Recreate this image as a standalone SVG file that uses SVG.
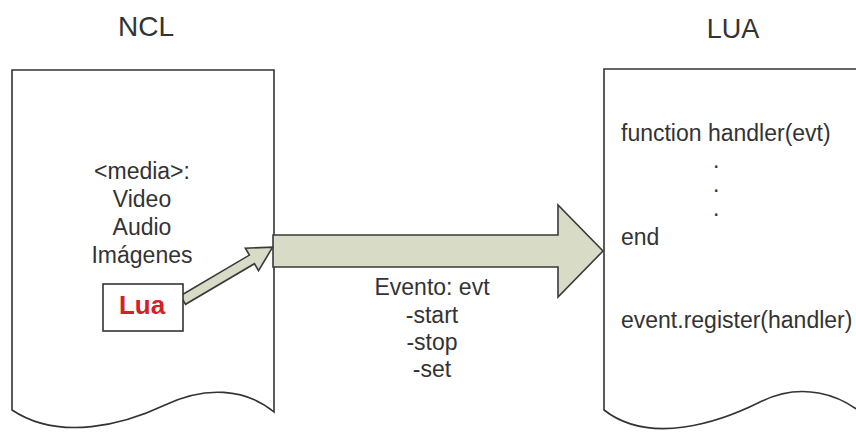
<svg xmlns="http://www.w3.org/2000/svg" width="856" height="432" viewBox="0 0 856 432">
  <style>
    .doc { fill: #ffffff; stroke: #333333; stroke-width: 1.6; }
    .arrow { fill: #d8dbc5; stroke: #3a3a3a; stroke-width: 1.6; stroke-linejoin: miter; }
    text { font-family: "Liberation Sans", Arial, sans-serif; fill: #333333; }
    .title { font-size: 28px; text-anchor: middle; }
    .body { font-size: 23px; }
    .mid { text-anchor: middle; }
  </style>
  <rect width="856" height="432" fill="#ffffff"/>

  <!-- Left document: NCL -->
  <g id="ncl">
    <text class="title" x="146" y="36">NCL</text>
    <path class="doc" d="M12,70 H274 V412 C 245,388 205,386 165,405 C 125,424 60,442 12,410 Z"/>
    <text class="body mid" x="142" y="179">&lt;media&gt;:</text>
    <text class="body mid" x="142" y="207">Video</text>
    <text class="body mid" x="142" y="235">Audio</text>
    <text class="body mid" x="142" y="263">Imágenes</text>
  </g>

  <!-- Right document: LUA -->
  <g id="lua-doc">
    <text class="title" x="733" y="38" style="font-size:27px">LUA</text>
    <path class="doc" d="M604,69 H870 V420 C 840,392 800,382 760,402 C 720,422 650,446 604,410 Z"/>
    <text class="body" x="621" y="141">function handler(evt)</text>
    <text class="body" x="713" y="168">.</text>
    <text class="body" x="713" y="192">.</text>
    <text class="body" x="713" y="216">.</text>
    <text class="body" x="621" y="245">end</text>
    <text class="body" x="621" y="328">event.register(handler)</text>
  </g>

  <!-- Connectors -->
  <g id="connectors">
    <!-- big event arrow -->
    <path class="arrow" d="M273,235 H558 V205 L603,251 L558,297 V267 H273 Z"/>
    <!-- small arrow from Lua box -->
    <path class="arrow" transform="translate(183,300) rotate(-30.5)" d="M0,-5 H80 V-13 L104,0 L80,13 V5 H0 Z"/>
  </g>

  <!-- Lua script box -->
  <g id="lua-box">
    <rect x="103" y="284" width="80" height="47" fill="#ffffff" stroke="#333333" stroke-width="1.6"/>
    <text x="142" y="314" text-anchor="middle" style="font-size:26px;font-weight:bold;fill:#d42028">Lua</text>
  </g>

  <!-- Event label -->
  <g id="evento">
    <text class="body mid" x="432" y="295">Evento: evt</text>
    <text class="body mid" x="432" y="323">-start</text>
    <text class="body mid" x="432" y="350">-stop</text>
    <text class="body mid" x="432" y="377">-set</text>
  </g>
</svg>
